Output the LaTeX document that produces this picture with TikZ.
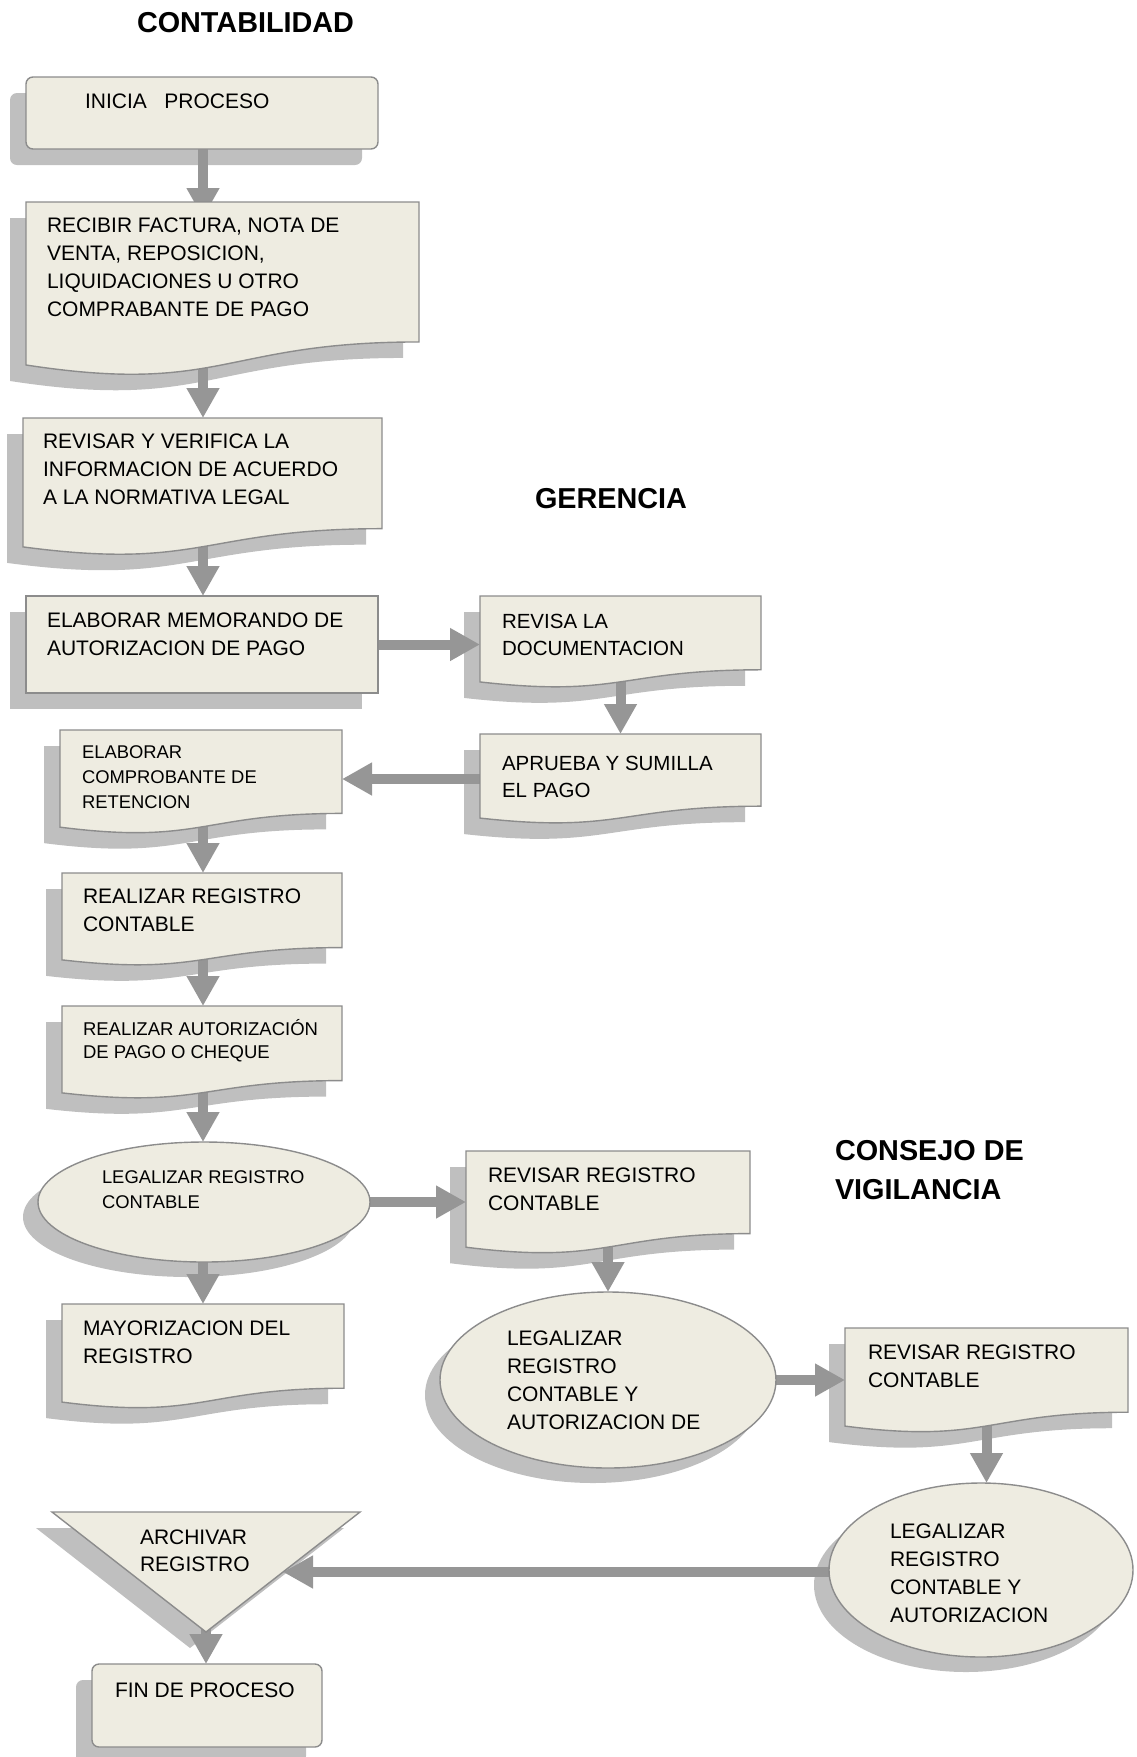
\documentclass[tikz,border=0pt]{standalone}
\usepackage{fontspec}
\setmainfont{Liberation Sans}
\usetikzlibrary{shapes.geometric,arrows.meta,calc}
\pgfdeclarelayer{shadowl}
\pgfdeclarelayer{arrowl}
\pgfdeclarelayer{boxl}
\pgfsetlayers{shadowl,arrowl,boxl,main}
\definecolor{fillc}{HTML}{EEECE1}
\definecolor{shadowc}{HTML}{BFBFBF}
\definecolor{arrowc}{HTML}{969696}
\definecolor{borderc}{HTML}{8C8C8C}
\newcommand\tb[5]{\parbox[c][#2][t]{#1}{\raggedright\leftskip=#3\relax\rule{0pt}{#4}#5}}
\newcommand\docdraw[1]{%
  \begin{pgfonlayer}{boxl}
    \path[boxshape] (#1.north west) -- (#1.north east) -- ($(#1.north east)!0.802!(#1.south east)$)
      .. controls ($(#1.north)!0.802!(#1.south)$) and ($(#1.north)!1.107!(#1.south)$) .. ($(#1.north west)!0.934!(#1.south west)$) -- cycle;
  \end{pgfonlayer}
  \begin{pgfonlayer}{shadowl}
    \path[shadowfill] (#1.north west) -- (#1.north east) -- ($(#1.north east)!0.802!(#1.south east)$)
      .. controls ($(#1.north)!0.802!(#1.south)$) and ($(#1.north)!1.107!(#1.south)$) .. ($(#1.north west)!0.934!(#1.south west)$) -- cycle;
  \end{pgfonlayer}}
\tikzset{
  base/.style={inner sep=0pt, outer sep=0pt},
  docnode/.style={base, anchor=north west},
  boxshape/.style={draw=borderc, fill=fillc, line width=0.7pt},
  ell/.style={ellipse, base, boxshape},
  shadowfill/.style={fill=shadowc, transform canvas={xshift=-8pt, yshift=-8pt}},
  eshadow/.style={fill=shadowc, transform canvas={xshift=-7.5pt, yshift=-7.5pt}},
  arr/.style={draw=arrowc, line width=5pt, -{Triangle[length=15pt,width=15.5pt]}},
  ttl/.style={base, font=\fontsize{14.4pt}{19.5pt}\selectfont\bfseries},
  fA/.style={font=\fontsize{10.5pt}{14pt}\selectfont},
  fB/.style={font=\fontsize{10.25pt}{13.5pt}\selectfont},
  fC/.style={font=\fontsize{9.2pt}{12.5pt}\selectfont},
  fD/.style={font=\fontsize{9.25pt}{11.5pt}\selectfont},
  fG/.style={font=\fontsize{10.5pt}{13.5pt}\selectfont},
}
\begin{document}
\begin{tikzpicture}[x=0.5pt, y=-0.5pt]
\useasboundingbox (0,0) rectangle (1136,1757);
\coordinate (colL) at (203,0);

% titles
\node[ttl, anchor=base west] (tcont) at (137,32) {CONTABILIDAD};
\node[ttl, anchor=base west] (tger) at (535,508) {GERENCIA};
\node[ttl, anchor=north west, align=left] (tcons) at (835,1140) {CONSEJO DE\\VIGILANCIA};

% CONTABILIDAD column
\node[docnode, boxshape, rounded corners=3.5pt, fA] (ini) at (26,77)
  {\tb{176pt}{36pt}{29.5pt}{15.5pt}{INICIA\ \ \ PROCESO}};
\node[docnode, fA] (rec) at (26,202)
  {\tb{196.5pt}{87.25pt}{10.5pt}{15pt}{RECIBIR FACTURA, NOTA DE\\VENTA, REPOSICION,\\LIQUIDACIONES U OTRO\\COMPRABANTE DE PAGO}};
\docdraw{rec}
\node[docnode, fA] (rev) at (23,418)
  {\tb{179.5pt}{69pt}{10pt}{15pt}{REVISAR Y VERIFICA LA\\INFORMACION DE ACUERDO\\A LA NORMATIVA LEGAL}};
\docdraw{rev}
\node[docnode, boxshape, fA] (memo) at (26,596)
  {\tb{176pt}{48.5pt}{10.5pt}{15.5pt}{ELABORAR MEMORANDO DE\\AUTORIZACION DE PAGO}};
\node[docnode, fC] (ret) at (60,730)
  {\tb{141pt}{52pt}{11pt}{14pt}{ELABORAR\\COMPROBANTE DE\\RETENCION}};
\docdraw{ret}
\node[docnode, fA] (reg) at (62,873)
  {\tb{140pt}{46.5pt}{10.5pt}{15pt}{REALIZAR REGISTRO\\CONTABLE}};
\docdraw{reg}
\node[docnode, fD] (aut) at (62,1006)
  {\tb{140pt}{46.5pt}{10.5pt}{14.5pt}{REALIZAR AUTORIZACIÓN\\DE PAGO O CHEQUE}};
\docdraw{aut}
\node[ell, fC, minimum width=166pt, minimum height=60pt] (e1) at (204,1202)
  {\tb{114.5pt}{41.4pt}{6.25pt}{11.2pt}{LEGALIZAR REGISTRO\\CONTABLE}};
\node[docnode, fA] (may) at (62,1304)
  {\tb{141pt}{52.5pt}{10.5pt}{15.5pt}{MAYORIZACION DEL\\REGISTRO}};
\docdraw{may}
\node[docnode, fG] (tri) at (52,1512)
  {\tb{154pt}{60pt}{44pt}{16pt}{ARCHIVAR\\REGISTRO}};
\begin{pgfonlayer}{boxl}
  \path[boxshape] (tri.north west) -- (tri.north east) -- (tri.south) -- cycle;
\end{pgfonlayer}
\node[docnode, boxshape, rounded corners=3.5pt, fA] (fin) at (92,1664)
  {\tb{115pt}{41.5pt}{11.5pt}{16.5pt}{FIN DE PROCESO}};

% GERENCIA column
\node[docnode, fB] (revd) at (480,596)
  {\tb{140.5pt}{46pt}{11pt}{16pt}{REVISA LA\\DOCUMENTACION}};
\docdraw{revd}
\node[docnode, fB] (apr) at (480,734)
  {\tb{140.5pt}{45pt}{11pt}{18pt}{APRUEBA Y SUMILLA\\EL PAGO}};
\docdraw{apr}
\node[docnode, fA] (rrg) at (466,1151)
  {\tb{142pt}{51.5pt}{11pt}{15.5pt}{REVISAR REGISTRO\\CONTABLE}};
\docdraw{rrg}
\node[ell, fA, minimum width=168pt, minimum height=88pt] (e2) at (608,1380)
  {\tb{115.9pt}{60.7pt}{7.45pt}{12.85pt}{LEGALIZAR\\REGISTRO\\CONTABLE Y\\AUTORIZACION DE}};

% CONSEJO column
\node[docnode, fA] (rrc) at (845,1328)
  {\tb{141.5pt}{52.5pt}{11.5pt}{15.5pt}{REVISAR REGISTRO\\CONTABLE}};
\docdraw{rrc}
\node[ell, fA, minimum width=152pt, minimum height=87pt] (e3) at (981,1570)
  {\tb{104.8pt}{60pt}{6.9pt}{14pt}{LEGALIZAR\\REGISTRO\\CONTABLE Y\\AUTORIZACION}};

\coordinate (trimid) at ($(tri.north east)!0.5!(tri.south)$);

% shadows
\begin{pgfonlayer}{shadowl}
  \path[shadowfill, rounded corners=3.5pt] (ini.north west) rectangle (ini.south east);
  \path[shadowfill] (memo.north west) rectangle (memo.south east);
  \path[shadowfill] (tri.north west) -- (tri.north east) -- (tri.south) -- cycle;
  \path[shadowfill, rounded corners=3.5pt] (fin.north west) rectangle (fin.south east);
  \path[eshadow] (e1.center) ellipse [x radius=83pt, y radius=30pt];
  \path[eshadow] (e2.center) ellipse [x radius=84pt, y radius=44pt];
  \path[eshadow] (e3.center) ellipse [x radius=76pt, y radius=43.5pt];
\end{pgfonlayer}

% connectors
\begin{pgfonlayer}{arrowl}
  \draw[arr] (ini.center -| colL) -- ($(rec.north -| colL)+(0,16)$);
  \draw[arr] (rec.center -| colL) -- (rev.north -| colL);
  \draw[arr] (rev.center -| colL) -- (memo.north -| colL);
  \draw[arr] (memo.center) -- (memo.center -| revd.west);
  \draw[arr] (revd.center) -- (apr.north);
  \draw[arr] (apr.center) -- (apr.center -| ret.east);
  \draw[arr] (ret.center -| colL) -- (reg.north -| colL);
  \draw[arr] (reg.center -| colL) -- (aut.north -| colL);
  \draw[arr] (aut.center -| colL) -- (e1.north -| colL);
  \draw[arr] (e1.center) -- (e1.center -| rrg.west);
  \draw[arr] (e1.center -| colL) -- (may.north -| colL);
  \draw[arr] (rrg.center) -- (e2.north);
  \draw[arr] (e2.center) -- (e2.center -| rrc.west);
  \draw[arr] (rrc.center) -- (rrc.center |- e3.north);
  \draw[arr] (e3.center |- trimid) -- (trimid);
  \draw[arr] (tri.center) -- (tri.center |- fin.north);
\end{pgfonlayer}
\end{tikzpicture}
\end{document}
